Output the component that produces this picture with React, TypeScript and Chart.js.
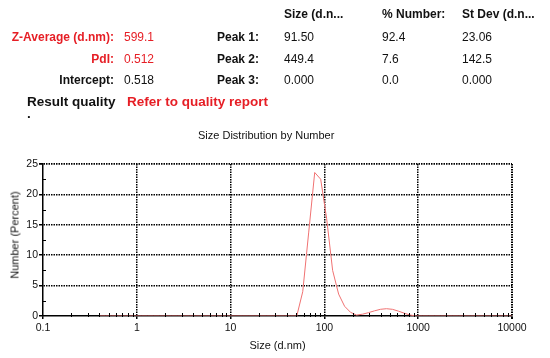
import React, { useEffect, useRef } from "react";
import { Chart, registerables } from "chart.js";

Chart.register(...registerables);

// ---------- data ----------
const SIZES = [
  0.4, 0.4632, 0.5365, 0.6213, 0.7195, 0.8332, 0.9649, 1.117, 1.294, 1.499,
  1.736, 2.01, 2.328, 2.696, 3.122, 3.615, 4.187, 4.849, 5.615, 6.503,
  7.531, 8.721, 10.1, 11.7, 13.54, 15.69, 18.17, 21.04, 24.36, 28.21,
  32.67, 37.84, 43.82, 50.75, 58.77, 68.06, 78.82, 91.28, 105.7, 122.4,
  141.8, 164.2, 190.1, 220.2, 255, 295.3, 342, 396.1, 458.7, 531.2,
  615.1, 712.4, 825, 955.4, 1106, 1281, 1484, 1718, 1990, 2305,
  2669, 3091, 3580, 4145, 4801, 5560, 6439, 7456, 8635, 10000,
];
const NUMBER_PERCENT = [
  0, 0, 0, 0, 0, 0, 0, 0, 0, 0,
  0, 0, 0, 0, 0, 0, 0, 0, 0, 0,
  0, 0, 0, 0, 0, 0, 0, 0, 0, 0,
  0, 0, 0, 0, 4.0, 13.8, 23.6, 22.5, 16.0, 7.5,
  3.6, 1.6, 0.6, 0.15, 0.3, 0.55, 0.85, 1.1, 1.2, 1.1,
  0.8, 0.45, 0.15, 0, 0, 0, 0, 0, 0, 0,
  0, 0, 0, 0, 0, 0, 0, 0, 0, 0,
];
const X_MAJOR = [0.1, 1, 10, 100, 1000, 10000];
const MINOR_STEPS = [2, 3, 4, 5, 6, 7, 8, 9];
const Y_MINOR = [2.5, 7.5, 12.5, 17.5, 22.5];
const Y_MIN = 0;
const Y_MAX = 25;
const Y_STEP = 5;

const CHART_TITLE = "Size Distribution by Number";
const X_TITLE = "Size (d.nm)";
const Y_TITLE = "Number (Percent)";

const SUMMARY_LABELS = ["Z-Average (d.nm):", "PdI:", "Intercept:"];
const SUMMARY_VALUES = ["599.1", "0.512", "0.518"];
const SUMMARY_RED = [true, true, false];

const PEAK_HEADERS = ["Size (d.n...", "% Number:", "St Dev (d.n..."];
const PEAK_LABELS = ["Peak 1:", "Peak 2:", "Peak 3:"];
const PEAK_SIZES = ["91.50", "449.4", "0.000"];
const PEAK_NUMBERS = ["92.4", "7.6", "0.0"];
const PEAK_STDEVS = ["23.06", "142.5", "0.000"];

const QUALITY_LABEL = "Result quality";
const QUALITY_VALUE = "Refer to quality report";

// ---------- style ----------
const FONT = '"Liberation Sans", Arial, Helvetica, sans-serif';
const RED = "#e61e25";
const LINE = "#f07272";
const GRID = "#000";

type TProps = {
  x: number;
  y: number;
  text: string;
  size?: number;
  bold?: boolean;
  color?: string;
  right?: boolean;
};

function T({ x, y, text, size = 12, bold = false, color = "#111", right = false }: TProps) {
  const lh = Math.round(size * 1.2);
  const style: React.CSSProperties = {
    position: "absolute",
    top: y - lh / 2,
    fontFamily: FONT,
    fontSize: size,
    fontWeight: bold ? 700 : 400,
    lineHeight: `${lh}px`,
    color,
    whiteSpace: "nowrap",
  };
  if (right) style.right = 550 - x;
  else style.left = x;
  return <div style={style}>{text}</div>;
}

const ROW_Y = [37, 59, 80];

export default function App() {
  const canvasRef = useRef<HTMLCanvasElement | null>(null);

  useEffect(() => {
    const canvas = canvasRef.current;
    if (!canvas) return;

    const xMinor: number[] = [];
    for (let d = 0; d < X_MAJOR.length - 1; d++) {
      for (const m of MINOR_STEPS) xMinor.push(X_MAJOR[d] * m);
    }

    const minorTicks = {
      id: "minorTicks",
      afterDatasetsDraw(chart: any) {
        const { ctx, chartArea } = chart;
        const xs = chart.scales.x;
        const ys = chart.scales.y;
        ctx.save();
        ctx.strokeStyle = "#000";
        ctx.lineWidth = 1;
        ctx.beginPath();
        for (const v of xMinor) {
          const px = Math.round(xs.getPixelForValue(v)) + 0.5;
          ctx.moveTo(px, chartArea.bottom - 3);
          ctx.lineTo(px, chartArea.bottom + 1);
        }
        for (const v of Y_MINOR) {
          const py = Math.round(ys.getPixelForValue(v)) + 0.5;
          ctx.moveTo(chartArea.left - 1, py);
          ctx.lineTo(chartArea.left + 3, py);
        }
        ctx.stroke();
        ctx.restore();
      },
    };

    const chart = new Chart(canvas, {
      type: "line",
      data: {
        datasets: [
          {
            data: SIZES.map((s, i) => ({ x: s, y: NUMBER_PERCENT[i] })),
            borderColor: LINE,
            borderWidth: 1,
            pointRadius: 0,
            tension: 0,
            fill: false,
          },
        ],
      },
      options: {
        animation: false,
        responsive: false,
        maintainAspectRatio: false,
        devicePixelRatio: 1,
        layout: { padding: { left: 0, right: 38, top: 164, bottom: 0 } },
        plugins: {
          legend: { display: false },
          tooltip: { enabled: false },
          title: { display: false },
        },
        scales: {
          x: {
            type: "logarithmic",
            min: 0.1,
            max: 10000,
            afterBuildTicks: (s: any) => {
              s.ticks = X_MAJOR.map((v) => ({ value: v }));
            },
            afterFit: (s: any) => {
              s.height = 42;
            },
            ticks: {
              callback: (v: any) => String(v),
              font: { family: FONT, size: 10.5 },
              color: "#111",
              padding: 3,
              maxRotation: 0,
              autoSkip: false,
            },
            grid: {
              color: (c: any) => (c.index === 0 ? "transparent" : GRID),
              lineWidth: (c: any) => (c.index === X_MAJOR.length - 1 ? 2 : 1.5),
              tickLength: 3,
              tickColor: "#000",
            },
            border: { color: "#000", width: 1.5, dash: [1.5, 1] },
            title: {
              display: true,
              text: X_TITLE,
              font: { family: FONT, size: 11 },
              color: "#111",
              padding: { top: 0, bottom: 5 },
            },
          },
          y: {
            min: Y_MIN,
            max: Y_MAX,
            afterFit: (s: any) => {
              s.width = 43;
            },
            ticks: {
              stepSize: Y_STEP,
              font: { family: FONT, size: 10.5 },
              color: "#111",
              padding: 1,
            },
            grid: {
              color: (c: any) => (c.index === 0 ? "transparent" : GRID),
              lineWidth: (c: any) => (c.tick && c.tick.value === Y_MAX ? 1.8 : 1.5),
              tickLength: 4,
              tickColor: "#000",
            },
            border: { color: "#000", width: 1.5, dash: [1.5, 1] },
            title: { display: false },
          },
        },
      } as any,
      plugins: [minorTicks],
    });

    return () => chart.destroy();
  }, []);

  return (
    <div
      style={{
        position: "fixed",
        left: 0,
        top: 0,
        width: 550,
        height: 358,
        background: "#fff",
        overflow: "hidden",
      }}
    >
      <canvas
        ref={canvasRef}
        width={550}
        height={358}
        style={{ position: "absolute", left: 0, top: 0, width: 550, height: 358 }}
      />

      {/* peak table headers */}
      <T x={284} y={14} text={PEAK_HEADERS[0]} bold />
      <T x={382} y={14} text={PEAK_HEADERS[1]} bold />
      <T x={462} y={14} text={PEAK_HEADERS[2]} bold />

      {SUMMARY_LABELS.map((lab, i) => (
        <T key={"sl" + i} x={114} y={ROW_Y[i]} text={lab} bold right color={SUMMARY_RED[i] ? RED : "#111"} />
      ))}
      {SUMMARY_VALUES.map((v, i) => (
        <T key={"sv" + i} x={124} y={ROW_Y[i]} text={v} color={SUMMARY_RED[i] ? RED : "#111"} />
      ))}
      {PEAK_LABELS.map((lab, i) => (
        <T key={"pl" + i} x={259} y={ROW_Y[i]} text={lab} bold right />
      ))}
      {PEAK_SIZES.map((v, i) => (
        <T key={"ps" + i} x={284} y={ROW_Y[i]} text={v} />
      ))}
      {PEAK_NUMBERS.map((v, i) => (
        <T key={"pn" + i} x={382} y={ROW_Y[i]} text={v} />
      ))}
      {PEAK_STDEVS.map((v, i) => (
        <T key={"pd" + i} x={462} y={ROW_Y[i]} text={v} />
      ))}

      <T x={27} y={102} text={QUALITY_LABEL} bold size={13.5} />
      <T x={127} y={102} text={QUALITY_VALUE} bold size={13.5} color={RED} />
      <T x={27} y={114} text="." bold size={13.5} />

      {/* chart title */}
      <T x={198} y={135} text={CHART_TITLE} size={11} />

      {/* y axis title */}
      <div
        style={{
          position: "absolute",
          left: 15,
          top: 235,
          transform: "translate(-50%, -50%) rotate(-90deg)",
          fontFamily: FONT,
          fontSize: 11,
          fontWeight: 400,
          lineHeight: "13px",
          color: "#111",
          whiteSpace: "nowrap",
        }}
      >
        {Y_TITLE}
      </div>
    </div>
  );
}
